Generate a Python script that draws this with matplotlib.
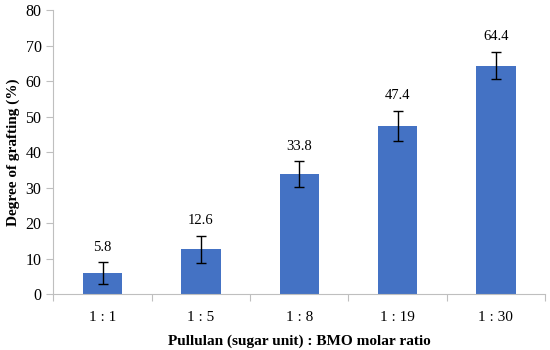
import matplotlib.pyplot as plt
import numpy as np

ratios = ["1 : 1", "1 : 5", "1 : 8", "1 : 19", "1 : 30"]
grafting = [5.8, 12.6, 33.8, 47.4, 64.4]
errors = [3.1, 3.8, 3.7, 4.3, 3.9]

plt.rcParams["font.family"] = ["Liberation Serif", "DejaVu Serif"]

fig = plt.figure(figsize=(5.5, 3.5), dpi=100)
ax = fig.add_axes([0.097, 0.16, 0.894, 0.811])

x = np.arange(len(ratios))
ax.bar(x, grafting, width=0.4, color="#4472C4", zorder=2)
ax.errorbar(x, grafting, yerr=errors, fmt="none", ecolor="black",
            elinewidth=1, capsize=3.5, capthick=1, zorder=3)

for xi, val, err in zip(x, grafting, errors):
    ax.annotate(f"{val}", (xi, val + err), xytext=(0, 6),
                textcoords="offset points", ha="center", va="bottom",
                fontsize=10.5)

ax.set_xlim(-0.5, len(ratios) - 0.5)
ax.set_ylim(0, 80)
ax.set_yticks(range(0, 81, 10))

# category labels sit between tick marks drawn at the boundaries
ax.set_xticks(np.arange(-0.5, len(ratios), 1.0))
ax.set_xticklabels([])
ax.set_xticks(x, minor=True)
ax.set_xticklabels(ratios, minor=True)
ax.tick_params(axis="x", which="major", length=5, color="#BFBFBF", width=0.8)
ax.tick_params(axis="x", which="minor", length=0, pad=12, labelsize=11)
ax.tick_params(axis="y", length=5, color="#BFBFBF", width=0.8, labelsize=11.5)

for side in ["top", "right"]:
    ax.spines[side].set_visible(False)
for side in ["left", "bottom"]:
    ax.spines[side].set_color("#BFBFBF")
    ax.spines[side].set_linewidth(0.8)

ax.set_ylabel("Degree of grafting (%)", fontweight="bold", fontsize=11)
ax.set_xlabel("Pullulan (sugar unit) : BMO molar ratio", fontweight="bold",
              fontsize=11, labelpad=8)

fig.savefig("out.png", dpi=100)
